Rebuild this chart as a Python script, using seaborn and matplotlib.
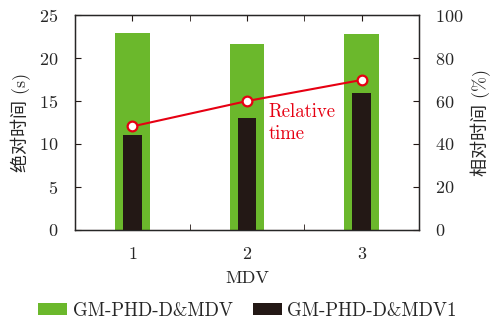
import numpy as np
import pandas as pd
import matplotlib
matplotlib.use("Agg")
import matplotlib.pyplot as plt
import seaborn as sns
from matplotlib.ticker import FixedLocator

mdv = ["1", "2", "3"]
abs_time_mdv = [22.9, 21.6, 22.75]
abs_time_mdv1 = [11.1, 13.0, 15.9]
rel_time = [48.2, 60.0, 69.8]

sns.set_style("ticks")
plt.rcParams["font.family"] = ["cmr10", "Noto Sans CJK SC"]
plt.rcParams["axes.formatter.use_mathtext"] = True
plt.rcParams["font.size"] = 13

green = "#6bb82c"
black = "#231815"
red = "#e60012"

df = pd.DataFrame({"MDV": mdv, "a": abs_time_mdv, "b": abs_time_mdv1, "rel": rel_time})

fig, ax = plt.subplots(figsize=(4.95, 3.22), dpi=100)
fig.subplots_adjust(left=0.152, right=0.846, top=0.953, bottom=0.286)

sns.barplot(data=df, x="MDV", y="a", color=green, width=0.3, saturation=1,
            linewidth=0, edgecolor="none", label="GM-PHD-D&MDV", ax=ax)
sns.barplot(data=df, x="MDV", y="b", color=black, width=0.16, saturation=1,
            linewidth=0, edgecolor="none", label="GM-PHD-D&MDV1", ax=ax)
handles, labels = ax.get_legend_handles_labels()
if ax.get_legend() is not None:
    ax.get_legend().remove()

ax.set_xlim(-0.5, 2.5)
ax.set_ylim(0, 25)
ax.set_yticks([0, 5, 10, 15, 20, 25])
ax.xaxis.set_minor_locator(FixedLocator([0.5, 1.5]))
ax.tick_params(which="both", direction="in", top=True, length=4, color="#231815")
ax.tick_params(axis="x", pad=12)
ax.tick_params(axis="y", pad=12)
ax.set_xlabel("MDV", labelpad=6)
ax.set_ylabel("绝对时间 (s)", labelpad=6)
for s in ax.spines.values():
    s.set_visible(True)
    s.set_color("#231815")
    s.set_linewidth(1.0)

ax2 = ax.twinx()
sns.lineplot(x=np.arange(len(rel_time)), y=rel_time, color=red, lw=1.5,
             marker="o", markersize=7, markerfacecolor="white",
             markeredgecolor=red, markeredgewidth=1.6, ax=ax2)
ax2.set_ylim(0, 100)
ax2.set_yticks([0, 20, 40, 60, 80, 100])
ax2.tick_params(direction="in", length=4, pad=12, color="#231815")
ax2.set_ylabel("相对时间 (%)", labelpad=5)
ax2.text(1.19, 59, "Relative\ntime", color=red, fontsize=13.5, ha="left", va="top",
         linespacing=1.25)

fig.legend(handles, labels, loc="lower center", bbox_to_anchor=(0.5, -0.045), ncol=2,
           frameon=False, handlelength=1.55, handleheight=0.55, columnspacing=1.05,
           handletextpad=0.3, fontsize=13.5)

fig.savefig("out.png", dpi=100)
